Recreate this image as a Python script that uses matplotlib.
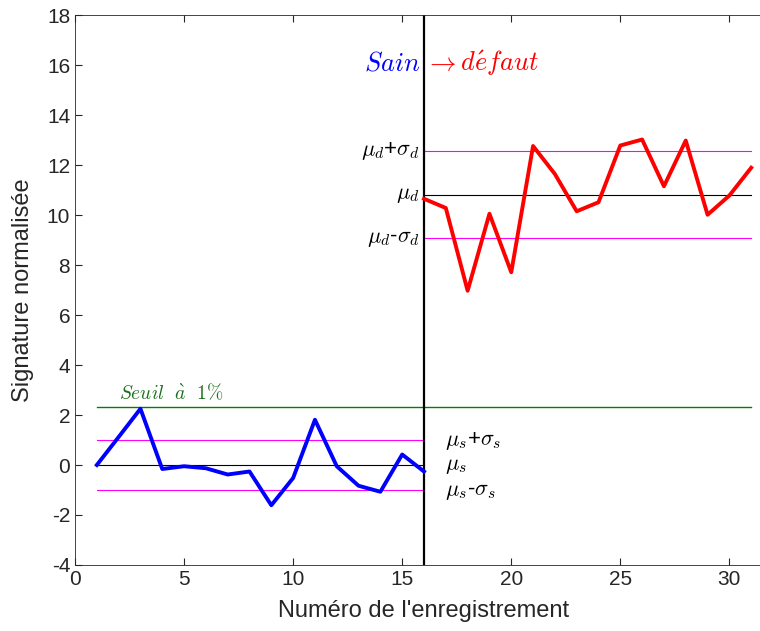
import numpy as np
import matplotlib.pyplot as plt

plt.rcParams['font.family'] = ['Liberation Sans', 'DejaVu Sans']
plt.rcParams['mathtext.fontset'] = 'cm'
plt.rcParams['axes.unicode_minus'] = False

# Data
rec_sain = np.arange(1, 17)
sig_sain = [0.0, 1.12, 2.25, -0.16, -0.05, -0.13, -0.38, -0.26,
            -1.61, -0.52, 1.81, -0.05, -0.83, -1.07, 0.42, -0.26]
rec_def = np.arange(16, 32)
sig_def = [10.65, 10.28, 6.97, 10.05, 7.71, 12.76, 11.64, 10.15,
           10.51, 12.78, 13.02, 11.15, 12.98, 10.01, 10.78, 11.89]

mu_s, sigma_s = 0.0, 1.0
mu_d, sigma_d = 10.82, 1.75
seuil = 2.33
x_switch = 16

fig = plt.figure(figsize=(7.6, 6.31), dpi=100)
ax = fig.add_axes([0.0987, 0.1046, 1.0171 - 0.0987, 0.9762 - 0.1046])

# reference lines
ax.plot([1, 16], [mu_s, mu_s], color='black', lw=0.8)
ax.plot([1, 16], [mu_s + sigma_s] * 2, color='#ff00ff', lw=0.8)
ax.plot([1, 16], [mu_s - sigma_s] * 2, color='#ff00ff', lw=0.8)
ax.plot([16, 31], [mu_d, mu_d], color='black', lw=0.8)
ax.plot([16, 31], [mu_d + sigma_d] * 2, color='#ff00ff', lw=0.8)
ax.plot([16, 31], [mu_d - sigma_d] * 2, color='#ff00ff', lw=0.8)
ax.plot([1, 31], [seuil, seuil], color='#008000', lw=1.0)
ax.axvline(x_switch, color='black', lw=1.6)

# signals
ax.plot(rec_sain, sig_sain, color='blue', lw=2.8)
ax.plot(rec_def, sig_def, color='red', lw=2.8)

# annotations
ax.text(15.85, 16.05, r'$Sain$', color='blue', fontsize=19, ha='right', va='center')
ax.text(16.05, 16.05, r"$\rightarrow d\'efaut$", color='red', fontsize=19, ha='left', va='center')
ax.text(15.8, mu_d + sigma_d, r'$\mu_d$+$\sigma_d$', fontsize=16, ha='right', va='center')
ax.text(15.8, mu_d, r'$\mu_d$', fontsize=16, ha='right', va='center')
ax.text(15.8, mu_d - sigma_d, r'$\mu_d$-$\sigma_d$', fontsize=16, ha='right', va='center')
ax.text(16.95, 0.95, r'$\mu_s$+$\sigma_s$', fontsize=16, ha='left', va='center')
ax.text(16.95, 0.0, r'$\mu_s$', fontsize=16, ha='left', va='center')
ax.text(16.95, -1.05, r'$\mu_s$-$\sigma_s$', fontsize=16, ha='left', va='center')
ax.text(2.0, 2.9, r'$Seuil\ \ \grave{a}\ \ 1\%$', color='#1a6e1a', fontsize=14, ha='left', va='center')

ax.set_xlim(0, 32)
ax.set_ylim(-4, 18)
ax.set_xticks(np.arange(0, 31, 5))
ax.set_yticks(np.arange(-4, 19, 2))
ax.tick_params(direction='in', top=True, right=False, labelsize=15, colors='#262626', length=5)
ax.spines['right'].set_visible(False)
for s in ax.spines.values():
    s.set_color('#262626')
    s.set_linewidth(0.6)
ax.set_xlabel("Numéro de l'enregistrement", fontsize=17, color='#262626', labelpad=8)
ax.set_ylabel('Signature normalisée', fontsize=17, color='#262626', labelpad=9)

fig.savefig('out.png', dpi=100)
